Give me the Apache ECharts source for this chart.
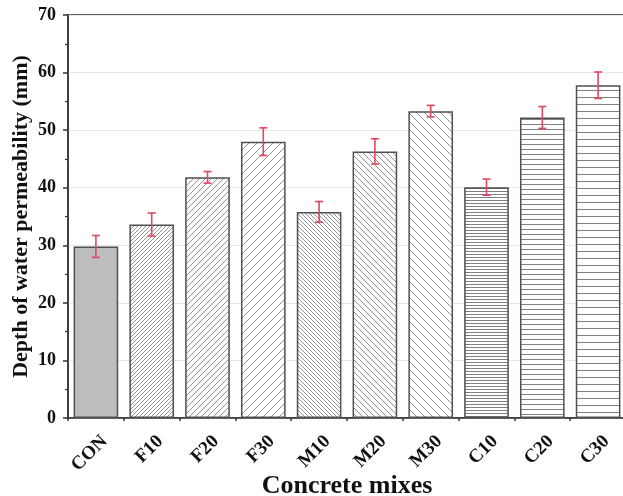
<!DOCTYPE html>
<html>
<head>
<meta charset="utf-8">
<script src="https://cdn.jsdelivr.net/npm/echarts@6/dist/echarts.min.js"></script>
<style>
html,body{margin:0;padding:0;background:#fff;}
#chart{width:623px;height:496px;}
</style>
</head>
<body>
<div id="chart"></div>
<script>
var categories = ['CON','F10','F20','F30','M10','M20','M30','C10','C20','C30'];
var depthValues = [29.8, 33.6, 41.8, 48.0, 35.8, 46.3, 53.3, 40.1, 52.2, 57.8];
var errorValues = [1.9, 2.0, 1.0, 2.4, 1.8, 2.2, 1.0, 1.4, 1.9, 2.3];
var yTicks = [0, 10, 20, 30, 40, 50, 60, 70];

function makePattern(kind, step) {
  var c = document.createElement('canvas');
  c.width = step; c.height = step;
  var ctx = c.getContext('2d');
  ctx.fillStyle = '#ffffff';
  ctx.fillRect(0, 0, step, step);
  ctx.strokeStyle = '#959595';
  ctx.lineWidth = 1;
  ctx.beginPath();
  if (kind === 'fwd') {
    ctx.moveTo(-1, step + 1); ctx.lineTo(step + 1, -1);
    ctx.moveTo(-1, 1); ctx.lineTo(1, -1);
    ctx.moveTo(step - 1, step + 1); ctx.lineTo(step + 1, step - 1);
  } else if (kind === 'back') {
    ctx.moveTo(-1, -1); ctx.lineTo(step + 1, step + 1);
    ctx.moveTo(step - 1, -1); ctx.lineTo(step + 1, 1);
    ctx.moveTo(-1, step - 1); ctx.lineTo(1, step + 1);
  } else {
    ctx.strokeStyle = '#808080';
    ctx.moveTo(0, step - 0.5); ctx.lineTo(step, step - 0.5);
  }
  ctx.stroke();
  return { image: c, repeat: 'repeat' };
}

var fills = [
  '#bdbdbd',
  makePattern('fwd', 4), makePattern('fwd', 6), makePattern('fwd', 8),
  makePattern('back', 4), makePattern('back', 6), makePattern('back', 8),
  makePattern('horiz', 3), makePattern('horiz', 5), makePattern('horiz', 7)
];

var barData = depthValues.map(function (v, i) {
  return { value: v, itemStyle: { color: fills[i] } };
});
var errData = depthValues.map(function (v, i) {
  return [i, v - errorValues[i], v + errorValues[i]];
});

var font = 'Liberation Serif';
var chart = echarts.init(document.getElementById('chart'));
chart.setOption({
  animation: false,
  backgroundColor: '#fff',
  grid: { left: 68, width: 558, top: 15, height: 403, containLabel: false, outerBoundsMode: 'none',
    show: true, borderColor: '#333', borderWidth: 1.5, backgroundColor: 'transparent' },
  xAxis: [{
    type: 'category',
    data: categories,
    name: 'Concrete mixes',
    nameLocation: 'middle',
    nameGap: 55,
    nameMoveOverlap: false,
    nameTextStyle: { fontFamily: font, fontWeight: 'bold', fontSize: 26, color: '#111', verticalAlign: 'top' },
    axisLine: { lineStyle: { color: '#333', width: 1.5 } },
    axisTick: { alignWithLabel: true, length: 6, lineStyle: { color: '#333', width: 1.5 } },
    axisLabel: { rotate: 45, fontFamily: font, fontWeight: 'bold', fontSize: 19, color: '#111', margin: 12,
      align: 'right', verticalAlign: 'top', lineHeight: 24 },
    splitLine: { show: false }
  }, {
    type: 'category',
    data: categories,
    position: 'bottom',
    axisLine: { show: false },
    axisTick: { show: true, length: 3, lineStyle: { color: '#333', width: 1.5 } },
    axisLabel: { show: false },
    splitLine: { show: false }
  }],
  yAxis: {
    type: 'value',
    min: 0, max: 70, interval: 10,
    name: 'Depth of water permeability (mm)',
    nameLocation: 'middle',
    nameGap: 36,
    nameMoveOverlap: false,
    nameTextStyle: { fontFamily: font, fontWeight: 'bold', fontSize: 22, color: '#111' },
    axisLine: { show: true, lineStyle: { color: '#333', width: 1.5 } },
    axisTick: { show: true, length: 5, lineStyle: { color: '#333', width: 1.5 } },
    minorTick: { show: true, splitNumber: 2, length: 3, lineStyle: { color: '#333', width: 1.2 } },
    axisLabel: { fontFamily: font, fontWeight: 'bold', fontSize: 18, color: '#111', margin: 12,
      formatter: function (v) { return yTicks.indexOf(v) >= 0 ? String(v) : ''; } },
    splitLine: { show: true, lineStyle: { color: '#e6e6e6', width: 1 } }
  },
  series: [{
    type: 'bar',
    data: barData,
    barWidth: '80%',
    itemStyle: { borderColor: '#505050', borderWidth: 1.5 }
  }, {
    type: 'custom',
    data: errData,
    z: 10,
    renderItem: function (params, api) {
      var x = api.value(0);
      var lo = api.coord([x, api.value(1)]);
      var hi = api.coord([x, api.value(2)]);
      var hw = 4;
      var st = { stroke: '#e0485f', lineWidth: 1.6 };
      return { type: 'group', children: [
        { type: 'line', shape: { x1: hi[0], y1: hi[1], x2: lo[0], y2: lo[1] }, style: st },
        { type: 'line', shape: { x1: hi[0] - hw, y1: hi[1], x2: hi[0] + hw, y2: hi[1] }, style: st },
        { type: 'line', shape: { x1: lo[0] - hw, y1: lo[1], x2: lo[0] + hw, y2: lo[1] }, style: st }
      ]};
    }
  }]
});
</script>
</body>
</html>
